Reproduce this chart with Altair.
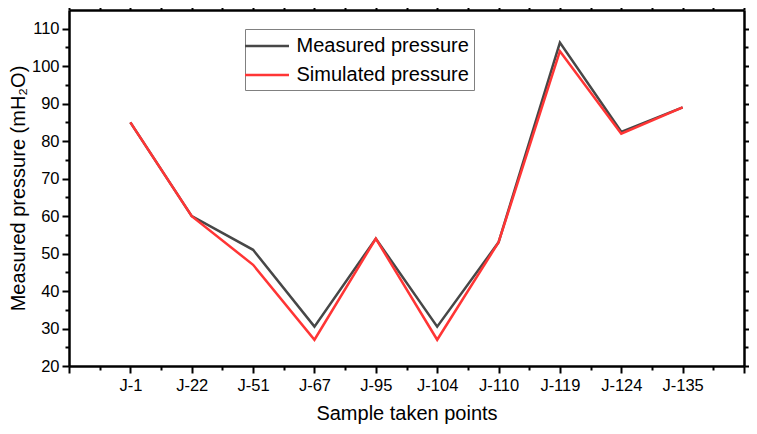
import altair as alt
import pandas as pd

points = ["J-1", "J-22", "J-51", "J-67", "J-95", "J-104", "J-110", "J-119", "J-124", "J-135"]
measured = [85, 60, 51, 30.5, 54, 30.5, 53, 106.3, 82.5, 89]
simulated = [85, 60, 47, 27, 54, 27, 53, 104, 82, 89]
series_names = ["Measured pressure", "Simulated pressure"]
series_colors = ["#474747", "#ff3535"]

rows = []
for i, p in enumerate(points):
    rows.append({"pos": i + 1, "point": p, "value": measured[i], "series": series_names[0]})
    rows.append({"pos": i + 1, "point": p, "value": simulated[i], "series": series_names[1]})
df = pd.DataFrame(rows)

FONT = "Liberation Sans"
XDOM = [0, 11]
YDOM = [20, 115]
label_expr = "{" + ",".join(f"'{i+1}':'{p}'" for i, p in enumerate(points)) + "}[datum.value] || ''"

xscale = alt.Scale(domain=XDOM, nice=False, zero=False)
yscale = alt.Scale(domain=YDOM, nice=False, zero=False)
color = alt.Color("series:N", scale=alt.Scale(domain=series_names, range=series_colors),
                  legend=alt.Legend(title=None, orient="none", legendX=176, legendY=19,
                                    symbolType="M-2,0H2", symbolSize=484, symbolStrokeWidth=2.5,
                                    labelFontSize=20, labelFont=FONT, labelColor="black",
                                    labelLimit=400,
                                    strokeColor="#808080", padding=4.5, rowPadding=6,
                                    symbolOffset=5, labelOffset=17, fillColor="white"))

major_axis_style = dict(domainColor="black", domainWidth=2.5, tickColor="black", tickWidth=2,
                        tickSize=7, grid=False, labelFont=FONT, labelColor="black",
                        titleFont=FONT, titleColor="black", titleFontWeight="normal")

base = alt.Chart(df)

main_x = alt.X("pos:Q", scale=xscale,
               axis=alt.Axis(values=list(range(0, 12)), labelExpr=label_expr, labelFontSize=16.5,
                             labelPadding=4, title="Sample taken points", titleFontSize=20,
                             titlePadding=10, labelFlush=False, labelOverlap=False, **major_axis_style))
main_y = alt.Y("value:Q", scale=yscale,
               axis=alt.Axis(values=list(range(20, 115, 10)), labelFontSize=16.5, labelPadding=3,
                             title="Measured pressure (mH₂O)", titleFontSize=20, titlePadding=3,
                             labelFlush=False, **major_axis_style))

meas = base.transform_filter(alt.datum.series == series_names[0]).mark_line(strokeWidth=2.5).encode(
    x=main_x, y=main_y, color=color)
sim = base.transform_filter(alt.datum.series == series_names[1]).mark_line(strokeWidth=2.5).encode(
    x=alt.X("pos:Q", scale=xscale, axis=None), y=alt.Y("value:Q", scale=yscale, axis=None), color=color)

minor_style = dict(domain=False, labels=False, title=None, grid=False, tickColor="black",
                   tickWidth=2, tickSize=4)
minor = base.mark_line(opacity=0).encode(
    x=alt.X("pos:Q", scale=xscale, axis=alt.Axis(values=[i + 0.5 for i in range(11)], **minor_style)),
    y=alt.Y("value:Q", scale=yscale, axis=alt.Axis(values=list(range(25, 115, 10)), **minor_style)),
    detail="series:N")

mirror_x_style = dict(domain=True, domainColor="black", domainWidth=2.5, labels=False, title=None,
                      grid=False, tickColor="black", tickWidth=2, tickSize=7)
mirror_y_style = dict(domain=True, domainColor="black", domainWidth=2.5, labels=False, title=None,
                      grid=False, tickColor="black", tickWidth=2, tickSize=5)
mirror = base.mark_line(opacity=0).encode(
    x=alt.X("pos:Q", scale=xscale, axis=alt.Axis(orient="top", values=list(range(0, 12)), **mirror_x_style)),
    y=alt.Y("value:Q", scale=yscale, axis=alt.Axis(orient="right", values=list(range(20, 115, 10)), **mirror_y_style)),
    detail="series:N")

mirror_minor = base.mark_line(opacity=0).encode(
    x=alt.X("pos:Q", scale=xscale, axis=alt.Axis(orient="top", values=[i + 0.5 for i in range(11)], **minor_style)),
    y=alt.Y("value:Q", scale=yscale, axis=alt.Axis(orient="right", values=list(range(25, 115, 10)), **minor_style)),
    detail="series:N")

chart = alt.layer(minor, mirror, mirror_minor, meas, sim).resolve_axis(
    x="independent", y="independent"
).properties(
    width=675, height=356,
    autosize=alt.AutoSizeParams(type="none"),
    padding={"left": 61, "top": 2, "right": 5, "bottom": 60},
    background="white",
).configure_view(stroke=None)

chart.save("out.html", embed_options={"renderer": "svg", "actions": False})
